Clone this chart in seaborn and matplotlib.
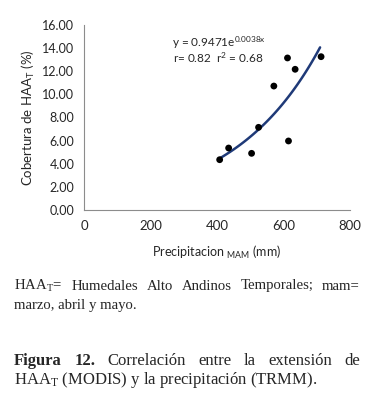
import numpy as np
import pandas as pd
import seaborn as sns
import matplotlib.pyplot as plt

# Data
precip = [408, 435, 504, 525, 571, 612, 615, 635, 713]
cobertura = [4.35, 5.36, 4.90, 7.15, 10.72, 13.15, 5.97, 12.17, 13.26]

# Trend line coefficients printed on the chart
a_coef = 0.9471
b_coef = 0.0038

sns.set_theme(style="white")
plt.rcParams['font.family'] = ['Lato', 'DejaVu Sans']
plt.rcParams['mathtext.default'] = 'regular'

df = pd.DataFrame({"precip": precip, "cobertura": cobertura})
xs = np.linspace(min(precip), 710, 100)
trend = pd.DataFrame({"x": xs, "y": a_coef * np.exp(b_coef * xs)})

fig = plt.figure(figsize=(3.79, 3.98), dpi=100)
ax = fig.add_axes([84 / 379, 1 - 210 / 398, 266 / 379, 185 / 398])

sns.lineplot(data=trend, x="x", y="y", color="#1f3a78", linewidth=1.8, ax=ax)
sns.scatterplot(data=df, x="precip", y="cobertura", color="black", s=24,
                edgecolor="none", zorder=3, ax=ax)

ax.set_xlim(0, 800)
ax.set_ylim(0, 16)
ax.set_xticks([0, 200, 400, 600, 800])
ax.set_yticks(np.arange(0, 16.1, 2))
ax.set_yticklabels([f"{v:.2f}" for v in np.arange(0, 16.1, 2)])
sns.despine(ax=ax)
for s in ["left", "bottom"]:
    ax.spines[s].set_color("#8c8c8c")
    ax.spines[s].set_linewidth(0.8)
ax.tick_params(axis="y", direction="out", length=4, width=0.8, color="#8c8c8c",
               labelsize=9, pad=3)
ax.tick_params(axis="x", direction="in", length=4, width=0.8, color="#8c8c8c",
               labelsize=9.5, pad=7)
ax.set_xlabel("Precipitacion $_{MAM}$ (mm)", fontsize=9, labelpad=9)
ax.set_ylabel("Cobertura de HAA$_{T}$ (%)", fontsize=9.5, labelpad=4)

ax.text(172 / 379, 1 - 43 / 398, "y = 0.9471e$^{0.0038x}$", transform=fig.transFigure,
        fontsize=8.5, ha="left", va="center")
ax.text(173 / 379, 1 - 58 / 398, "r= 0.82  r$^{2}$ = 0.68", transform=fig.transFigure,
        fontsize=8.5, ha="left", va="center")

serif = ['Liberation Serif', 'DejaVu Serif']
renderer = fig.canvas.get_renderer()


def justify(words, y, x0, x1, sizes, weights):
    # place words so the line fills x0..x1 like justified text
    arts = []
    for w, fs, wt in zip(words, sizes, weights):
        t = fig.text(0, 1 - y / 398, w, family=serif, fontsize=fs, weight=wt,
                     va="center", ha="left")
        arts.append(t)
    widths = [a.get_window_extent(renderer).width for a in arts]
    gap = (x1 - x0 - sum(widths)) / (len(arts) - 1)
    x = x0
    for a, w in zip(arts, widths):
        a.set_x(x / 379)
        x += w + gap


line1 = ["HAA$_{T}$=", "Humedales", "Alto", "Andinos", "Temporales;", "mam="]
justify(line1, 286, 14, 360, [10.6] * 6, ["normal"] * 6)
fig.text(14 / 379, 1 - 305 / 398, "marzo, abril y mayo.", family=serif,
         fontsize=10.6, va="center", ha="left")

line4 = ["Figura", "12.", "Correlación", "entre", "la", "extensión", "de"]
justify(line4, 361, 14, 360, [12] * 7, ["bold", "bold"] + ["normal"] * 5)
fig.text(14 / 379, 1 - 380 / 398, "HAA$_{T}$ (MODIS) y la precipitación (TRMM).",
         family=serif, fontsize=12, va="center", ha="left")

fig.savefig("out.png", dpi=100)
